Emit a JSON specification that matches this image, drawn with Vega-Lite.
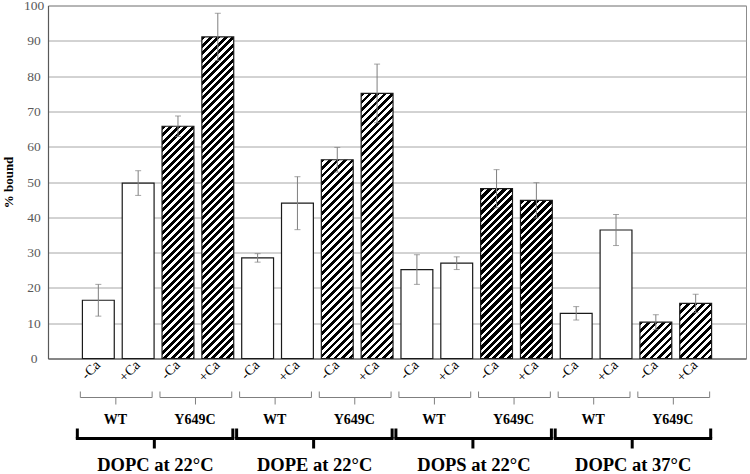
{
  "$schema": "https://vega.github.io/schema/vega-lite/v6.json",
  "padding": {"left": 1, "top": -2.5, "right": 0, "bottom": 0},
  "bounds": "flush",
  "spacing": 39,
  "config": {
    "font": "Liberation Serif",
    "view": {"stroke": "#8c8c8c"}
  },
  "params": [
    {"name": "normal", "value": [{"offset":0,"color":"#000"},{"offset":0.0104,"color":"#000"},{"offset":0.0104,"color":"#fff"},{"offset":0.0208,"color":"#fff"},
{"offset":0.0208,"color":"#000"},{"offset":0.0313,"color":"#000"},{"offset":0.0313,"color":"#fff"},{"offset":0.0417,"color":"#fff"},
{"offset":0.0417,"color":"#000"},{"offset":0.0521,"color":"#000"},{"offset":0.0521,"color":"#fff"},{"offset":0.0625,"color":"#fff"},
{"offset":0.0625,"color":"#000"},{"offset":0.0729,"color":"#000"},{"offset":0.0729,"color":"#fff"},{"offset":0.0833,"color":"#fff"},
{"offset":0.0833,"color":"#000"},{"offset":0.0938,"color":"#000"},{"offset":0.0938,"color":"#fff"},{"offset":0.1042,"color":"#fff"},
{"offset":0.1042,"color":"#000"},{"offset":0.1146,"color":"#000"},{"offset":0.1146,"color":"#fff"},{"offset":0.125,"color":"#fff"},
{"offset":0.125,"color":"#000"},{"offset":0.1354,"color":"#000"},{"offset":0.1354,"color":"#fff"},{"offset":0.1458,"color":"#fff"},
{"offset":0.1458,"color":"#000"},{"offset":0.1563,"color":"#000"},{"offset":0.1563,"color":"#fff"},{"offset":0.1667,"color":"#fff"},
{"offset":0.1667,"color":"#000"},{"offset":0.1771,"color":"#000"},{"offset":0.1771,"color":"#fff"},{"offset":0.1875,"color":"#fff"},
{"offset":0.1875,"color":"#000"},{"offset":0.1979,"color":"#000"},{"offset":0.1979,"color":"#fff"},{"offset":0.2083,"color":"#fff"},
{"offset":0.2083,"color":"#000"},{"offset":0.2188,"color":"#000"},{"offset":0.2188,"color":"#fff"},{"offset":0.2292,"color":"#fff"},
{"offset":0.2292,"color":"#000"},{"offset":0.2396,"color":"#000"},{"offset":0.2396,"color":"#fff"},{"offset":0.25,"color":"#fff"},
{"offset":0.25,"color":"#000"},{"offset":0.2604,"color":"#000"},{"offset":0.2604,"color":"#fff"},{"offset":0.2708,"color":"#fff"},
{"offset":0.2708,"color":"#000"},{"offset":0.2813,"color":"#000"},{"offset":0.2813,"color":"#fff"},{"offset":0.2917,"color":"#fff"},
{"offset":0.2917,"color":"#000"},{"offset":0.3021,"color":"#000"},{"offset":0.3021,"color":"#fff"},{"offset":0.3125,"color":"#fff"},
{"offset":0.3125,"color":"#000"},{"offset":0.3229,"color":"#000"},{"offset":0.3229,"color":"#fff"},{"offset":0.3333,"color":"#fff"},
{"offset":0.3333,"color":"#000"},{"offset":0.3438,"color":"#000"},{"offset":0.3438,"color":"#fff"},{"offset":0.3542,"color":"#fff"},
{"offset":0.3542,"color":"#000"},{"offset":0.3646,"color":"#000"},{"offset":0.3646,"color":"#fff"},{"offset":0.375,"color":"#fff"},
{"offset":0.375,"color":"#000"},{"offset":0.3854,"color":"#000"},{"offset":0.3854,"color":"#fff"},{"offset":0.3958,"color":"#fff"},
{"offset":0.3958,"color":"#000"},{"offset":0.4063,"color":"#000"},{"offset":0.4063,"color":"#fff"},{"offset":0.4167,"color":"#fff"},
{"offset":0.4167,"color":"#000"},{"offset":0.4271,"color":"#000"},{"offset":0.4271,"color":"#fff"},{"offset":0.4375,"color":"#fff"},
{"offset":0.4375,"color":"#000"},{"offset":0.4479,"color":"#000"},{"offset":0.4479,"color":"#fff"},{"offset":0.4583,"color":"#fff"},
{"offset":0.4583,"color":"#000"},{"offset":0.4688,"color":"#000"},{"offset":0.4688,"color":"#fff"},{"offset":0.4792,"color":"#fff"},
{"offset":0.4792,"color":"#000"},{"offset":0.4896,"color":"#000"},{"offset":0.4896,"color":"#fff"},{"offset":0.5,"color":"#fff"},
{"offset":0.5,"color":"#000"},{"offset":0.5104,"color":"#000"},{"offset":0.5104,"color":"#fff"},{"offset":0.5208,"color":"#fff"},
{"offset":0.5208,"color":"#000"},{"offset":0.5313,"color":"#000"},{"offset":0.5313,"color":"#fff"},{"offset":0.5417,"color":"#fff"},
{"offset":0.5417,"color":"#000"},{"offset":0.5521,"color":"#000"},{"offset":0.5521,"color":"#fff"},{"offset":0.5625,"color":"#fff"},
{"offset":0.5625,"color":"#000"},{"offset":0.5729,"color":"#000"},{"offset":0.5729,"color":"#fff"},{"offset":0.5833,"color":"#fff"},
{"offset":0.5833,"color":"#000"},{"offset":0.5938,"color":"#000"},{"offset":0.5938,"color":"#fff"},{"offset":0.6042,"color":"#fff"},
{"offset":0.6042,"color":"#000"},{"offset":0.6146,"color":"#000"},{"offset":0.6146,"color":"#fff"},{"offset":0.625,"color":"#fff"},
{"offset":0.625,"color":"#000"},{"offset":0.6354,"color":"#000"},{"offset":0.6354,"color":"#fff"},{"offset":0.6458,"color":"#fff"},
{"offset":0.6458,"color":"#000"},{"offset":0.6563,"color":"#000"},{"offset":0.6563,"color":"#fff"},{"offset":0.6667,"color":"#fff"},
{"offset":0.6667,"color":"#000"},{"offset":0.6771,"color":"#000"},{"offset":0.6771,"color":"#fff"},{"offset":0.6875,"color":"#fff"},
{"offset":0.6875,"color":"#000"},{"offset":0.6979,"color":"#000"},{"offset":0.6979,"color":"#fff"},{"offset":0.7083,"color":"#fff"},
{"offset":0.7083,"color":"#000"},{"offset":0.7188,"color":"#000"},{"offset":0.7188,"color":"#fff"},{"offset":0.7292,"color":"#fff"},
{"offset":0.7292,"color":"#000"},{"offset":0.7396,"color":"#000"},{"offset":0.7396,"color":"#fff"},{"offset":0.75,"color":"#fff"},
{"offset":0.75,"color":"#000"},{"offset":0.7604,"color":"#000"},{"offset":0.7604,"color":"#fff"},{"offset":0.7708,"color":"#fff"},
{"offset":0.7708,"color":"#000"},{"offset":0.7813,"color":"#000"},{"offset":0.7813,"color":"#fff"},{"offset":0.7917,"color":"#fff"},
{"offset":0.7917,"color":"#000"},{"offset":0.8021,"color":"#000"},{"offset":0.8021,"color":"#fff"},{"offset":0.8125,"color":"#fff"},
{"offset":0.8125,"color":"#000"},{"offset":0.8229,"color":"#000"},{"offset":0.8229,"color":"#fff"},{"offset":0.8333,"color":"#fff"},
{"offset":0.8333,"color":"#000"},{"offset":0.8438,"color":"#000"},{"offset":0.8438,"color":"#fff"},{"offset":0.8542,"color":"#fff"},
{"offset":0.8542,"color":"#000"},{"offset":0.8646,"color":"#000"},{"offset":0.8646,"color":"#fff"},{"offset":0.875,"color":"#fff"},
{"offset":0.875,"color":"#000"},{"offset":0.8854,"color":"#000"},{"offset":0.8854,"color":"#fff"},{"offset":0.8958,"color":"#fff"},
{"offset":0.8958,"color":"#000"},{"offset":0.9063,"color":"#000"},{"offset":0.9063,"color":"#fff"},{"offset":0.9167,"color":"#fff"},
{"offset":0.9167,"color":"#000"},{"offset":0.9271,"color":"#000"},{"offset":0.9271,"color":"#fff"},{"offset":0.9375,"color":"#fff"},
{"offset":0.9375,"color":"#000"},{"offset":0.9479,"color":"#000"},{"offset":0.9479,"color":"#fff"},{"offset":0.9583,"color":"#fff"},
{"offset":0.9583,"color":"#000"},{"offset":0.9688,"color":"#000"},{"offset":0.9688,"color":"#fff"},{"offset":0.9792,"color":"#fff"},
{"offset":0.9792,"color":"#000"},{"offset":0.9896,"color":"#000"},{"offset":0.9896,"color":"#fff"},{"offset":1,"color":"#fff"}]},
    {"name": "dense", "value": [{"offset":0,"color":"#000"},{"offset":0.0125,"color":"#000"},{"offset":0.0125,"color":"#fff"},{"offset":0.0208,"color":"#fff"},
{"offset":0.0208,"color":"#000"},{"offset":0.0333,"color":"#000"},{"offset":0.0333,"color":"#fff"},{"offset":0.0417,"color":"#fff"},
{"offset":0.0417,"color":"#000"},{"offset":0.0542,"color":"#000"},{"offset":0.0542,"color":"#fff"},{"offset":0.0625,"color":"#fff"},
{"offset":0.0625,"color":"#000"},{"offset":0.075,"color":"#000"},{"offset":0.075,"color":"#fff"},{"offset":0.0833,"color":"#fff"},
{"offset":0.0833,"color":"#000"},{"offset":0.0958,"color":"#000"},{"offset":0.0958,"color":"#fff"},{"offset":0.1042,"color":"#fff"},
{"offset":0.1042,"color":"#000"},{"offset":0.1167,"color":"#000"},{"offset":0.1167,"color":"#fff"},{"offset":0.125,"color":"#fff"},
{"offset":0.125,"color":"#000"},{"offset":0.1375,"color":"#000"},{"offset":0.1375,"color":"#fff"},{"offset":0.1458,"color":"#fff"},
{"offset":0.1458,"color":"#000"},{"offset":0.1583,"color":"#000"},{"offset":0.1583,"color":"#fff"},{"offset":0.1667,"color":"#fff"},
{"offset":0.1667,"color":"#000"},{"offset":0.1792,"color":"#000"},{"offset":0.1792,"color":"#fff"},{"offset":0.1875,"color":"#fff"},
{"offset":0.1875,"color":"#000"},{"offset":0.2,"color":"#000"},{"offset":0.2,"color":"#fff"},{"offset":0.2083,"color":"#fff"},
{"offset":0.2083,"color":"#000"},{"offset":0.2208,"color":"#000"},{"offset":0.2208,"color":"#fff"},{"offset":0.2292,"color":"#fff"},
{"offset":0.2292,"color":"#000"},{"offset":0.2417,"color":"#000"},{"offset":0.2417,"color":"#fff"},{"offset":0.25,"color":"#fff"},
{"offset":0.25,"color":"#000"},{"offset":0.2625,"color":"#000"},{"offset":0.2625,"color":"#fff"},{"offset":0.2708,"color":"#fff"},
{"offset":0.2708,"color":"#000"},{"offset":0.2833,"color":"#000"},{"offset":0.2833,"color":"#fff"},{"offset":0.2917,"color":"#fff"},
{"offset":0.2917,"color":"#000"},{"offset":0.3042,"color":"#000"},{"offset":0.3042,"color":"#fff"},{"offset":0.3125,"color":"#fff"},
{"offset":0.3125,"color":"#000"},{"offset":0.325,"color":"#000"},{"offset":0.325,"color":"#fff"},{"offset":0.3333,"color":"#fff"},
{"offset":0.3333,"color":"#000"},{"offset":0.3458,"color":"#000"},{"offset":0.3458,"color":"#fff"},{"offset":0.3542,"color":"#fff"},
{"offset":0.3542,"color":"#000"},{"offset":0.3667,"color":"#000"},{"offset":0.3667,"color":"#fff"},{"offset":0.375,"color":"#fff"},
{"offset":0.375,"color":"#000"},{"offset":0.3875,"color":"#000"},{"offset":0.3875,"color":"#fff"},{"offset":0.3958,"color":"#fff"},
{"offset":0.3958,"color":"#000"},{"offset":0.4083,"color":"#000"},{"offset":0.4083,"color":"#fff"},{"offset":0.4167,"color":"#fff"},
{"offset":0.4167,"color":"#000"},{"offset":0.4292,"color":"#000"},{"offset":0.4292,"color":"#fff"},{"offset":0.4375,"color":"#fff"},
{"offset":0.4375,"color":"#000"},{"offset":0.45,"color":"#000"},{"offset":0.45,"color":"#fff"},{"offset":0.4583,"color":"#fff"},
{"offset":0.4583,"color":"#000"},{"offset":0.4708,"color":"#000"},{"offset":0.4708,"color":"#fff"},{"offset":0.4792,"color":"#fff"},
{"offset":0.4792,"color":"#000"},{"offset":0.4917,"color":"#000"},{"offset":0.4917,"color":"#fff"},{"offset":0.5,"color":"#fff"},
{"offset":0.5,"color":"#000"},{"offset":0.5125,"color":"#000"},{"offset":0.5125,"color":"#fff"},{"offset":0.5208,"color":"#fff"},
{"offset":0.5208,"color":"#000"},{"offset":0.5333,"color":"#000"},{"offset":0.5333,"color":"#fff"},{"offset":0.5417,"color":"#fff"},
{"offset":0.5417,"color":"#000"},{"offset":0.5542,"color":"#000"},{"offset":0.5542,"color":"#fff"},{"offset":0.5625,"color":"#fff"},
{"offset":0.5625,"color":"#000"},{"offset":0.575,"color":"#000"},{"offset":0.575,"color":"#fff"},{"offset":0.5833,"color":"#fff"},
{"offset":0.5833,"color":"#000"},{"offset":0.5958,"color":"#000"},{"offset":0.5958,"color":"#fff"},{"offset":0.6042,"color":"#fff"},
{"offset":0.6042,"color":"#000"},{"offset":0.6167,"color":"#000"},{"offset":0.6167,"color":"#fff"},{"offset":0.625,"color":"#fff"},
{"offset":0.625,"color":"#000"},{"offset":0.6375,"color":"#000"},{"offset":0.6375,"color":"#fff"},{"offset":0.6458,"color":"#fff"},
{"offset":0.6458,"color":"#000"},{"offset":0.6583,"color":"#000"},{"offset":0.6583,"color":"#fff"},{"offset":0.6667,"color":"#fff"},
{"offset":0.6667,"color":"#000"},{"offset":0.6792,"color":"#000"},{"offset":0.6792,"color":"#fff"},{"offset":0.6875,"color":"#fff"},
{"offset":0.6875,"color":"#000"},{"offset":0.7,"color":"#000"},{"offset":0.7,"color":"#fff"},{"offset":0.7083,"color":"#fff"},
{"offset":0.7083,"color":"#000"},{"offset":0.7208,"color":"#000"},{"offset":0.7208,"color":"#fff"},{"offset":0.7292,"color":"#fff"},
{"offset":0.7292,"color":"#000"},{"offset":0.7417,"color":"#000"},{"offset":0.7417,"color":"#fff"},{"offset":0.75,"color":"#fff"},
{"offset":0.75,"color":"#000"},{"offset":0.7625,"color":"#000"},{"offset":0.7625,"color":"#fff"},{"offset":0.7708,"color":"#fff"},
{"offset":0.7708,"color":"#000"},{"offset":0.7833,"color":"#000"},{"offset":0.7833,"color":"#fff"},{"offset":0.7917,"color":"#fff"},
{"offset":0.7917,"color":"#000"},{"offset":0.8042,"color":"#000"},{"offset":0.8042,"color":"#fff"},{"offset":0.8125,"color":"#fff"},
{"offset":0.8125,"color":"#000"},{"offset":0.825,"color":"#000"},{"offset":0.825,"color":"#fff"},{"offset":0.8333,"color":"#fff"},
{"offset":0.8333,"color":"#000"},{"offset":0.8458,"color":"#000"},{"offset":0.8458,"color":"#fff"},{"offset":0.8542,"color":"#fff"},
{"offset":0.8542,"color":"#000"},{"offset":0.8667,"color":"#000"},{"offset":0.8667,"color":"#fff"},{"offset":0.875,"color":"#fff"},
{"offset":0.875,"color":"#000"},{"offset":0.8875,"color":"#000"},{"offset":0.8875,"color":"#fff"},{"offset":0.8958,"color":"#fff"},
{"offset":0.8958,"color":"#000"},{"offset":0.9083,"color":"#000"},{"offset":0.9083,"color":"#fff"},{"offset":0.9167,"color":"#fff"},
{"offset":0.9167,"color":"#000"},{"offset":0.9292,"color":"#000"},{"offset":0.9292,"color":"#fff"},{"offset":0.9375,"color":"#fff"},
{"offset":0.9375,"color":"#000"},{"offset":0.95,"color":"#000"},{"offset":0.95,"color":"#fff"},{"offset":0.9583,"color":"#fff"},
{"offset":0.9583,"color":"#000"},{"offset":0.9708,"color":"#000"},{"offset":0.9708,"color":"#fff"},{"offset":0.9792,"color":"#fff"},
{"offset":0.9792,"color":"#000"},{"offset":0.9917,"color":"#000"},{"offset":0.9917,"color":"#fff"},{"offset":1,"color":"#fff"}]}
  ],
  "vconcat": [
    {
      "width": 698,
      "height": 353,
      "data": {"values": [
        {"id": "DOPC22 WT -Ca", "lipid": "DOPC", "geno": "WT", "pct": 16.5, "err": 4.5},
        {"id": "DOPC22 WT +Ca", "lipid": "DOPC", "geno": "WT", "pct": 49.7, "err": 3.5},
        {"id": "DOPC22 Y649C -Ca", "lipid": "DOPC", "geno": "Y649C", "pct": 65.8, "err": 2.9},
        {"id": "DOPC22 Y649C +Ca", "lipid": "DOPC", "geno": "Y649C", "pct": 91.1, "err": 6.7},
        {"id": "DOPE22 WT -Ca", "lipid": "DOPE", "geno": "WT", "pct": 28.5, "err": 1.2},
        {"id": "DOPE22 WT +Ca", "lipid": "DOPE", "geno": "WT", "pct": 44.0, "err": 7.5},
        {"id": "DOPE22 Y649C -Ca", "lipid": "DOPE", "geno": "Y649C", "pct": 56.3, "err": 3.5},
        {"id": "DOPE22 Y649C +Ca", "lipid": "DOPE", "geno": "Y649C", "pct": 75.1, "err": 8.3},
        {"id": "DOPS22 WT -Ca", "lipid": "DOPS", "geno": "WT", "pct": 25.2, "err": 4.2},
        {"id": "DOPS22 WT +Ca", "lipid": "DOPS", "geno": "WT", "pct": 27.0, "err": 1.8},
        {"id": "DOPS22 Y649C -Ca", "lipid": "DOPS", "geno": "Y649C", "pct": 48.1, "err": 5.4},
        {"id": "DOPS22 Y649C +Ca", "lipid": "DOPS", "geno": "Y649C", "pct": 44.8, "err": 5.0},
        {"id": "DOPC37 WT -Ca", "lipid": "DOPC", "geno": "WT", "pct": 12.8, "err": 1.9},
        {"id": "DOPC37 WT +Ca", "lipid": "DOPC", "geno": "WT", "pct": 36.4, "err": 4.4},
        {"id": "DOPC37 Y649C -Ca", "lipid": "DOPC", "geno": "Y649C", "pct": 10.3, "err": 2.1},
        {"id": "DOPC37 Y649C +Ca", "lipid": "DOPC", "geno": "Y649C", "pct": 15.6, "err": 2.6}
      ]},
      "encoding": {
        "x": {
          "field": "id", "type": "nominal",
          "scale": {"domain": ["DOPC22 WT -Ca","DOPC22 WT +Ca","DOPC22 Y649C -Ca","DOPC22 Y649C +Ca","DOPE22 WT -Ca","DOPE22 WT +Ca","DOPE22 Y649C -Ca","DOPE22 Y649C +Ca","DOPS22 WT -Ca","DOPS22 WT +Ca","DOPS22 Y649C -Ca","DOPS22 Y649C +Ca","DOPC37 WT -Ca","DOPC37 WT +Ca","DOPC37 Y649C -Ca","DOPC37 Y649C +Ca"], "paddingInner": 0.2, "paddingOuter": 0.864},
          "axis": {"title": null, "labelExpr": "slice(datum.value, -3)", "labelAngle": -45, "labelAlign": "right", "labelBaseline": "middle", "labelPadding": 4, "ticks": false, "labelFontSize": 14, "labelColor": "#000", "domainColor": "#595959", "domainWidth": 1.2, "grid": false}
        },
        "y": {
          "field": "pct", "type": "quantitative",
          "scale": {"domain": [0, 100], "nice": false},
          "axis": {"title": "% bound", "titleFontSize": 13, "titleFontWeight": "bold", "titleColor": "#000", "titlePadding": 8, "values": [0,10,20,30,40,50,60,70,80,90,100], "labelFontSize": 13.5, "labelColor": "#595959", "labelAlign": "center", "labelPadding": 14.5, "ticks": false, "domainColor": "#595959", "domainWidth": 1.2, "grid": true, "gridColor": "#a6a6a6"}
        }
      },
      "layer": [
        {
          "mark": {"type": "bar", "stroke": "#1a1a1a", "strokeWidth": 1.2,
            "fill": {"expr": "datum.geno == 'Y649C' ? {gradient: 'linear', x1: 0, y1: 0, x2: 11469.6/(1015.1 + pow(datum.pct*3.53, 2)), y2: 360*datum.pct*3.53/(1015.1 + pow(datum.pct*3.53, 2)), stops: datum.lipid == 'DOPS' ? dense : normal} : '#ffffff'"}}
        },
        {
          "mark": {"type": "errorbar", "color": "#7f7f7f", "thickness": 1, "ticks": {"size": 6, "color": "#7f7f7f", "thickness": 1}},
          "encoding": {"yError": {"field": "err"}}
        }
      ]
    },
    {
      "width": 698,
      "height": 41,
      "view": {"stroke": null},
      "data": {"values": [
        {"tier": "genotype", "label": "WT", "first": "DOPC22 WT -Ca", "last": "DOPC22 WT +Ca"},
        {"tier": "genotype", "label": "Y649C", "first": "DOPC22 Y649C -Ca", "last": "DOPC22 Y649C +Ca"},
        {"tier": "genotype", "label": "WT", "first": "DOPE22 WT -Ca", "last": "DOPE22 WT +Ca"},
        {"tier": "genotype", "label": "Y649C", "first": "DOPE22 Y649C -Ca", "last": "DOPE22 Y649C +Ca"},
        {"tier": "genotype", "label": "WT", "first": "DOPS22 WT -Ca", "last": "DOPS22 WT +Ca"},
        {"tier": "genotype", "label": "Y649C", "first": "DOPS22 Y649C -Ca", "last": "DOPS22 Y649C +Ca"},
        {"tier": "genotype", "label": "WT", "first": "DOPC37 WT -Ca", "last": "DOPC37 WT +Ca"},
        {"tier": "genotype", "label": "Y649C", "first": "DOPC37 Y649C -Ca", "last": "DOPC37 Y649C +Ca"},
        {"tier": "group", "label": "DOPC at 22°C", "first": "DOPC22 WT -Ca", "last": "DOPC22 Y649C +Ca"},
        {"tier": "group", "label": "DOPE at 22°C", "first": "DOPE22 WT -Ca", "last": "DOPE22 Y649C +Ca"},
        {"tier": "group", "label": "DOPS at 22°C", "first": "DOPS22 WT -Ca", "last": "DOPS22 Y649C +Ca"},
        {"tier": "group", "label": "DOPC at 37°C", "first": "DOPC37 WT -Ca", "last": "DOPC37 Y649C +Ca"}
      ]},
      "encoding": {
        "x": {
          "field": "first", "type": "nominal",
          "scale": {"domain": ["DOPC22 WT -Ca","DOPC22 WT +Ca","DOPC22 Y649C -Ca","DOPC22 Y649C +Ca","DOPE22 WT -Ca","DOPE22 WT +Ca","DOPE22 Y649C -Ca","DOPE22 Y649C +Ca","DOPS22 WT -Ca","DOPS22 WT +Ca","DOPS22 Y649C -Ca","DOPS22 Y649C +Ca","DOPC37 WT -Ca","DOPC37 WT +Ca","DOPC37 Y649C -Ca","DOPC37 Y649C +Ca"], "paddingInner": 0.2, "paddingOuter": 0.864},
          "axis": null
        },
        "y": {
          "field": "tier", "type": "nominal",
          "scale": {"type": "point", "domain": ["genotype", "group"], "padding": 0},
          "axis": null
        }
      },
      "layer": [
        {"transform": [{"filter": "datum.tier == 'genotype'"}], "mark": {"type": "rule", "color": "#7f7f7f", "strokeWidth": 1, "xOffset": -18, "x2Offset": 14}, "encoding": {"x2": {"field": "last"}}},
        {"transform": [{"filter": "datum.tier == 'genotype'"}], "mark": {"type": "rule", "color": "#7f7f7f", "strokeWidth": 1, "xOffset": -18, "y2Offset": -6}, "encoding": {"y2": {"field": "tier"}}},
        {"transform": [{"filter": "datum.tier == 'genotype'"}], "mark": {"type": "rule", "color": "#7f7f7f", "strokeWidth": 1, "xOffset": 53.8, "y2Offset": -6}, "encoding": {"y2": {"field": "tier"}}},
        {"transform": [{"filter": "datum.tier == 'genotype'"}], "mark": {"type": "rule", "color": "#7f7f7f", "strokeWidth": 1, "xOffset": 17.5, "y2Offset": 7}, "encoding": {"y2": {"field": "tier"}}},
        {"transform": [{"filter": "datum.tier == 'genotype'"}], "mark": {"type": "text", "fontSize": 14, "fontWeight": "bold", "color": "#000", "xOffset": 17, "yOffset": 26.5, "baseline": "alphabetic"}, "encoding": {"text": {"field": "label"}}},
        {"transform": [{"filter": "datum.tier == 'group'"}], "mark": {"type": "rule", "color": "#000", "strokeWidth": 3, "strokeCap": "square", "xOffset": -21, "x2Offset": 15}, "encoding": {"x2": {"field": "last"}}},
        {"transform": [{"filter": "datum.tier == 'group'"}], "mark": {"type": "rule", "color": "#000", "strokeWidth": 3, "xOffset": -21, "y2Offset": -10}, "encoding": {"y2": {"field": "tier"}}},
        {"transform": [{"filter": "datum.tier == 'group'"}], "mark": {"type": "rule", "color": "#000", "strokeWidth": 3, "xOffset": 134.5, "y2Offset": -10}, "encoding": {"y2": {"field": "tier"}}},
        {"transform": [{"filter": "datum.tier == 'group'"}], "mark": {"type": "rule", "color": "#000", "strokeWidth": 3, "xOffset": 56, "y2Offset": 10}, "encoding": {"y2": {"field": "tier"}}},
        {"transform": [{"filter": "datum.tier == 'group'"}], "mark": {"type": "text", "fontSize": 18.5, "fontWeight": "bold", "color": "#000", "xOffset": 57, "yOffset": 32.5, "baseline": "alphabetic"}, "encoding": {"text": {"field": "label"}}}
      ]
    }
  ]
}
